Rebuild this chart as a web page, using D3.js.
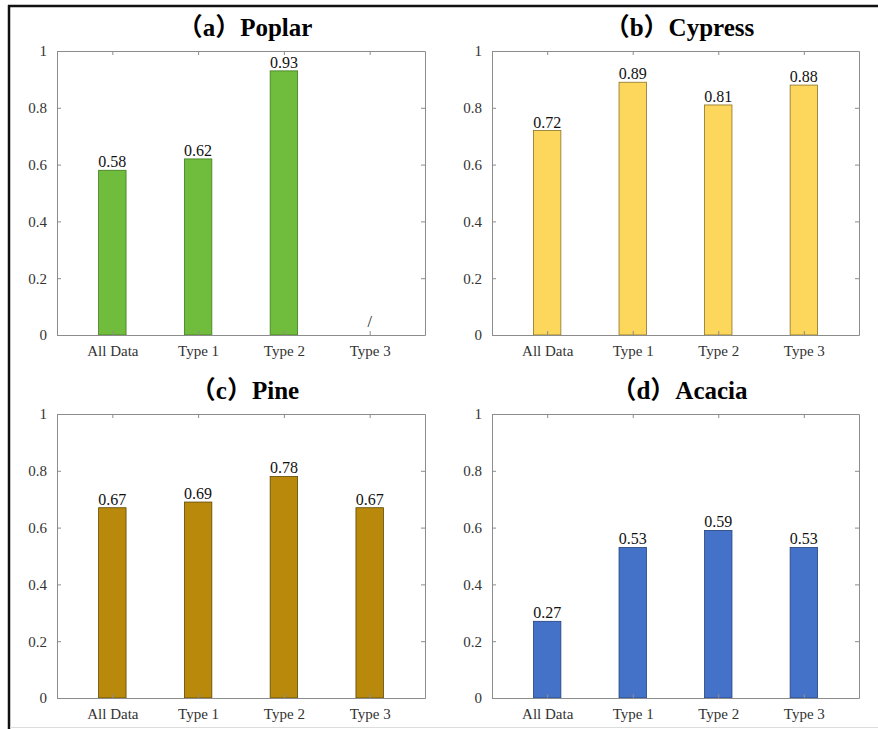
<!DOCTYPE html>
<html>
<head>
<meta charset="utf-8">
<script src="https://cdn.jsdelivr.net/npm/d3@7"></script>
<style>
  body { margin: 0; background: #fff; }
  svg { display: block; }
</style>
</head>
<body>
<svg width="878" height="729"></svg>
<script>
//Data
const categories = ["All Data", "Type 1", "Type 2", "Type 3"];
const poplar = [0.58, 0.62, 0.93, null];
const cypress = [0.72, 0.89, 0.81, 0.88];
const pine = [0.67, 0.69, 0.78, 0.67];
const acacia = [0.27, 0.53, 0.59, 0.53];
const yTicks = [0, 0.2, 0.4, 0.6, 0.8, 1];
const titles = ["（a）Poplar", "（b）Cypress", "（c）Pine", "（d）Acacia"];

const serif = "'Liberation Serif', 'Times New Roman', serif";

const panels = [
  { title: titles[0], values: poplar, color: "#70bd3d", edge: "#3f7a1e", x0: 57, x1: 425, y0: 51, y1: 335 },
  { title: titles[1], values: cypress, color: "#fdd75c", edge: "#8a7226", x0: 492, x1: 859, y0: 51, y1: 335 },
  { title: titles[2], values: pine, color: "#b8890a", edge: "#5e4604", x0: 57, x1: 425, y0: 414, y1: 698 },
  { title: titles[3], values: acacia, color: "#4472c8", edge: "#22407a", x0: 492, x1: 859, y0: 414, y1: 698 }
];

const svg = d3.select("svg");

//Outer frame
svg.append("line").attr("x1", 9).attr("x2", 9).attr("y1", 5).attr("y2", 729)
   .attr("stroke", "#111").attr("stroke-width", 2.5);
svg.append("line").attr("x1", 8).attr("x2", 878).attr("y1", 6).attr("y2", 6)
   .attr("stroke", "#111").attr("stroke-width", 2.5);
svg.append("line").attr("x1", 10).attr("x2", 878).attr("y1", 727.5).attr("y2", 727.5)
   .attr("stroke", "#ddd").attr("stroke-width", 1);

panels.forEach(p => drawPanel(p));

function drawPanel(p){
  const xScale = d3.scaleLinear().domain([0.355, 4.645]).range([p.x0, p.x1]);
  const yScale = d3.scaleLinear().domain([0, 1]).range([p.y1, p.y0]);
  const g = svg.append("g");
  const barW = xScale(0.32) - xScale(0);

  //Bars
  const data = p.values.map((v, i) => ({ cat: categories[i], i: i + 1, v: v }));
  g.selectAll(".bar")
   .data(data.filter(d => d.v !== null))
   .enter()
   .append("rect")
   .classed("bar", true)
   .attr("x", d => xScale(d.i) - barW / 2)
   .attr("y", d => yScale(d.v))
   .attr("width", barW)
   .attr("height", d => yScale(0) - yScale(d.v))
   .attr("fill", p.color)
   .attr("stroke", p.edge)
   .attr("stroke-width", 0.8);

  //Value labels
  g.selectAll(".val")
   .data(data)
   .enter()
   .append("text")
   .classed("val", true)
   .attr("x", d => xScale(d.i))
   .attr("y", d => d.v === null ? yScale(0) - 8 : yScale(d.v) - 3)
   .attr("text-anchor", "middle")
   .attr("font-family", serif)
   .attr("font-size", 16)
   .attr("fill", "#111")
   .text(d => d.v === null ? "/" : d.v.toFixed(2));

  //Axes (box with inward ticks)
  const xAxis = d3.axisBottom(xScale).tickValues([1, 2, 3, 4])
                  .tickFormat(d => categories[d - 1]).tickSizeInner(-4).tickSizeOuter(0).tickPadding(10);
  const xTop = d3.axisTop(xScale).tickValues([1, 2, 3, 4]).tickFormat("").tickSizeInner(-4).tickSizeOuter(0);
  const yAxis = d3.axisLeft(yScale).tickValues(yTicks).tickFormat(d => d3.format("")(+d.toFixed(1)))
                  .tickSizeInner(-4).tickSizeOuter(0).tickPadding(10);
  const yRight = d3.axisRight(yScale).tickValues(yTicks).tickFormat("").tickSizeInner(-4).tickSizeOuter(0);

  [[xAxis, "translate(0," + p.y1 + ")"], [xTop, "translate(0," + p.y0 + ")"],
   [yAxis, "translate(" + p.x0 + ",0)"], [yRight, "translate(" + p.x1 + ",0)"]].forEach(a => {
    const ax = g.append("g").attr("transform", a[1]).call(a[0])
                .attr("font-family", serif).attr("font-size", 15);
    ax.select(".domain").attr("stroke", "#8c8c8c");
    ax.selectAll(".tick line").attr("stroke", "#8c8c8c");
    ax.selectAll(".tick text").attr("fill", "#333");
  });

  //Title
  g.append("text")
   .attr("x", (p.x0 + p.x1) / 2 + 4)
   .attr("y", p.y0 - 15)
   .attr("text-anchor", "middle")
   .attr("font-family", "'Liberation Serif', 'Noto Sans CJK SC', serif")
   .attr("font-weight", "bold")
   .attr("font-size", 25)
   .attr("fill", "#000")
   .text(p.title);
}
</script>
</body>
</html>
